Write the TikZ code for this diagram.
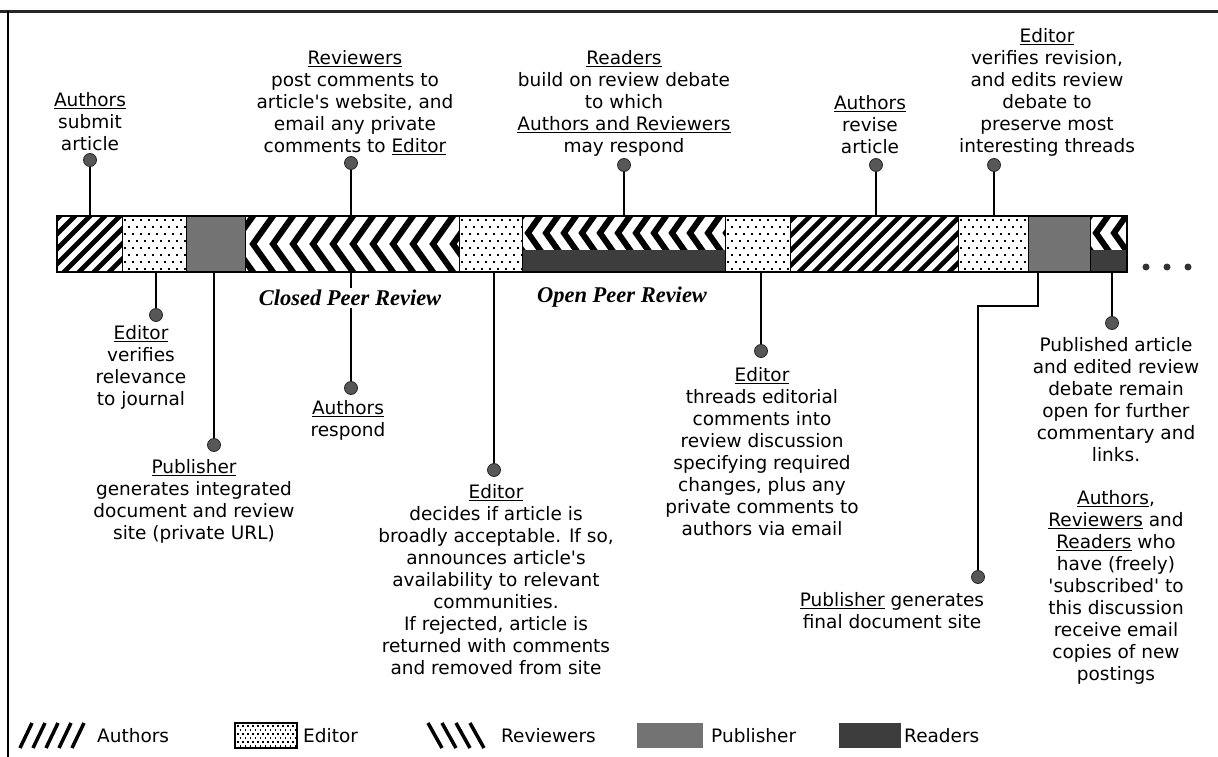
\documentclass[tikz,border=0pt]{standalone}
\usepackage{fontspec}
\setmainfont{DejaVu Sans}
\newfontfamily\labfont{Liberation Serif}
\newcommand\authorsfill[4]{%
  \begin{scope}
    \clip (#1,#2) rectangle (#3,#4);
    \fill[white] (#1,#2) rectangle (#3,#4);
    \foreach \s in {-90,-75,...,1230}{\draw[line width=4.6pt] (\s,#4+4) -- (\s+64,#2-4);}
  \end{scope}}
\newcommand\editorfill[4]{%
  \begin{scope}
    \clip (#1,#2) rectangle (#3,#4);
    \fill[white] (#1,#2) rectangle (#3,#4);
    \foreach \yy in {0,14,...,56}{\foreach \xx in {0,8,...,72}{
      \fill (#1+\xx+2,#2+\yy+3) rectangle ++(2,2);
      \fill (#1+\xx+6,#2+\yy+10) rectangle ++(2,2);}}
  \end{scope}}
\newcommand\chevfill[7]{%
  \begin{scope}
    \clip (#1,#2) rectangle (#3,#4);
    \fill[white] (#1,#2) rectangle (#3,#4);
    \foreach \s in {0,...,#7}{%
      \draw[line width=6pt, line join=miter, miter limit=10]
        (#1-12+\s*#6+1.4*#5, #2/2+#4/2-1.4*#4/2+1.4*#2/2)
        -- (#1-12+\s*#6, #2/2+#4/2)
        -- (#1-12+\s*#6+1.4*#5, #2/2+#4/2+1.4*#4/2-1.4*#2/2);}
  \end{scope}}
\begin{document}
\begin{tikzpicture}[x=1pt,y=-1pt,
  txt/.style={font=\fontsize{18.5}{22}\selectfont, align=center, inner sep=0pt, anchor=north},
  pin/.style={line width=1.4pt},
  dot/.style={circle, fill=black!66, draw=black!85, line width=0.8pt, minimum size=13pt, inner sep=0pt},
  smalldot/.style={circle, fill=black!80, minimum size=7pt, inner sep=0pt},
  phase/.style={font=\labfont\bfseries\itshape\fontsize{22.5}{26}\selectfont, fill=white, inner sep=2pt},
  leg/.style={font=\fontsize{18.5}{22}\selectfont, anchor=base west, inner sep=0pt},
  pubfill/.style={fill=black!55},
  readfill/.style={fill=black!76},
]
\useasboundingbox (0,0) rectangle (1218,757);
% frame
\draw[line width=3pt, black!85] (0,12) -- (1218,12);
\draw[line width=2.5pt] (8,11) -- (8,757);

% ---- bar ----
\authorsfill{57}{216}{122}{272}
\editorfill{122}{216}{186}{272}
\fill[pubfill] (186,216) rectangle (245,272);
\chevfill{245}{216}{459}{272}{20}{20}{12}
\editorfill{459}{216}{522}{272}
\chevfill{522}{216}{725}{250}{12}{18}{12}
\fill[readfill] (522,250) rectangle (725,272);
\editorfill{725}{216}{790}{272}
\authorsfill{790}{216}{958}{272}
\editorfill{958}{216}{1028}{272}
\fill[pubfill] (1028,216) rectangle (1090,272);
\chevfill{1090}{216}{1127}{250}{12}{18}{3}
\fill[readfill] (1090,250) rectangle (1127,272);
\foreach \x in {122,186,245,459,522,725,790,958,1028,1090}{\draw[line width=1pt] (\x,216) -- (\x,272);}
\draw[line width=1.5pt] (57,216) rectangle (1127,272);

% anchors on the bar
\coordinate (bt1) at (90,216);
\coordinate (bt2) at (351,216);
\coordinate (bt3) at (624,216);
\coordinate (bt4) at (876,216);
\coordinate (bt5) at (994,216);
\coordinate (bb1) at (156,272);
\coordinate (bb2) at (214,272);
\coordinate (bb3) at (351,272);
\coordinate (bb4) at (494,272);
\coordinate (bb5) at (761,272);
\coordinate (bb6) at (1038,272);
\coordinate (bb7) at (1112,272);

% dots
\node[dot] (dt1) at (90,160) {};
\node[dot] (dt2) at (351,163) {};
\node[dot] (dt3) at (624,165) {};
\node[dot] (dt4) at (876,165) {};
\node[dot] (dt5) at (994,165) {};
\node[dot] (db1) at (156,315) {};
\node[dot] (db2) at (214,445) {};
\node[dot] (db3) at (351,388) {};
\node[dot] (db4) at (494,470) {};
\node[dot] (db5) at (761,351) {};
\node[dot] (db6) at (978,577) {};
\node[dot] (db7) at (1112,323) {};

% connectors
\draw[pin] (bt1) -- (dt1);
\draw[pin] (bt2) -- (dt2);
\draw[pin] (bt3) -- (dt3);
\draw[pin] (bt4) -- (dt4);
\draw[pin] (bt5) -- (dt5);
\draw[pin] (bb1) -- (db1);
\draw[pin] (bb2) -- (db2);
\draw[pin] (bb3) -- (db3);
\draw[pin] (bb4) -- (db4);
\draw[pin] (bb5) -- (db5);
\draw[pin] (bb6) -- ++(0,34) -| (db6);
\draw[pin] (bb7) -- (db7);

% continuation dots
\node[smalldot] (c1) at (1146,267) {};
\node[smalldot] (c2) at (1167,267) {};
\node[smalldot] (c3) at (1188,267) {};

% phase labels
\node[phase] (cpr) at (350,298) {Closed Peer Review};
\node[phase] (opr) at (622,297) {Open Peer Review};

% texts above
\node[txt] (tas) at (90,92.5) {\underline{Authors}\\submit\\article};
\node[txt] (trv) at (355,50.5) {\underline{Reviewers}\\post comments to\\article\textquotesingle s website, and\\email any private\\comments to \underline{Editor}};
\node[txt] (trd) at (624,50.5) {\underline{Readers}\\build on review debate\\to which\\\underline{Authors and Reviewers}\\may respond};
\node[txt] (tar) at (870,95.5) {\underline{Authors}\\revise\\article};
\node[txt] (tev) at (1047,28.5) {\underline{Editor}\\verifies revision,\\and edits review\\debate to\\preserve most\\interesting threads};

% texts below
\node[txt] (te1) at (141,325.5) {\underline{Editor}\\verifies\\relevance\\to journal};
\node[txt] (tp1) at (194,459.5) {\underline{Publisher}\\generates integrated\\document and review\\site (private URL)};
\node[txt] (tau) at (348,400.5) {\underline{Authors}\\respond};
\node[txt] (te2) at (496,484.5) {\underline{Editor}\\decides if article is\\broadly acceptable. If so,\\announces article\textquotesingle s\\availability to relevant\\communities.\\If rejected, article is\\returned with comments\\and removed from site};
\node[txt] (te3) at (762,367.5) {\underline{Editor}\\threads editorial\\comments into\\review discussion\\specifying required\\changes, plus any\\private comments to\\authors via email};
\node[txt] (tpf) at (892,592.5) {\underline{Publisher} generates\\final document site};
\node[txt] (tpa) at (1116,337.5) {Published article\\and edited review\\debate remain\\open for further\\commentary and\\links.};
\node[txt] (tsb) at (1116,490.5) {\underline{Authors},\\\underline{Reviewers} and\\\underline{Readers} who\\have (freely)\\\textquotesingle subscribed\textquotesingle\ to\\this discussion\\receive email\\copies of new\\postings};

% legend
\foreach \i in {0,...,4}{\draw[line width=3.5pt] (20+\i*13,748) -- (32+\i*13,723);}
\node[leg] (lga) at (97,742.5) {Authors};
\begin{scope}
  \clip (235,723) rectangle (297,748);
  \fill[white] (235,723) rectangle (297,748);
  \foreach \yy in {0,8,...,24}{\foreach \xx in {0,5,...,60}{
    \fill (237+\xx,725+\yy) rectangle ++(1.8,1.8);
    \fill (239.5+\xx,729+\yy) rectangle ++(1.8,1.8);}}
\end{scope}
\draw[line width=1.5pt] (235,723) rectangle (297,748);
\node[leg] (lge) at (303,742.5) {Editor};
\foreach \i in {0,...,3}{\draw[line width=3.5pt] (428+\i*14,723) -- (442+\i*14,748);}
\node[leg] (lgr) at (501,742.5) {Reviewers};
\fill[pubfill] (637,723) rectangle (703,748);
\node[leg] (lgp) at (711,742.5) {Publisher};
\fill[readfill] (839,723) rectangle (901,748);
\node[leg] (lgd) at (904,742.5) {Readers};
\end{tikzpicture}
\end{document}
